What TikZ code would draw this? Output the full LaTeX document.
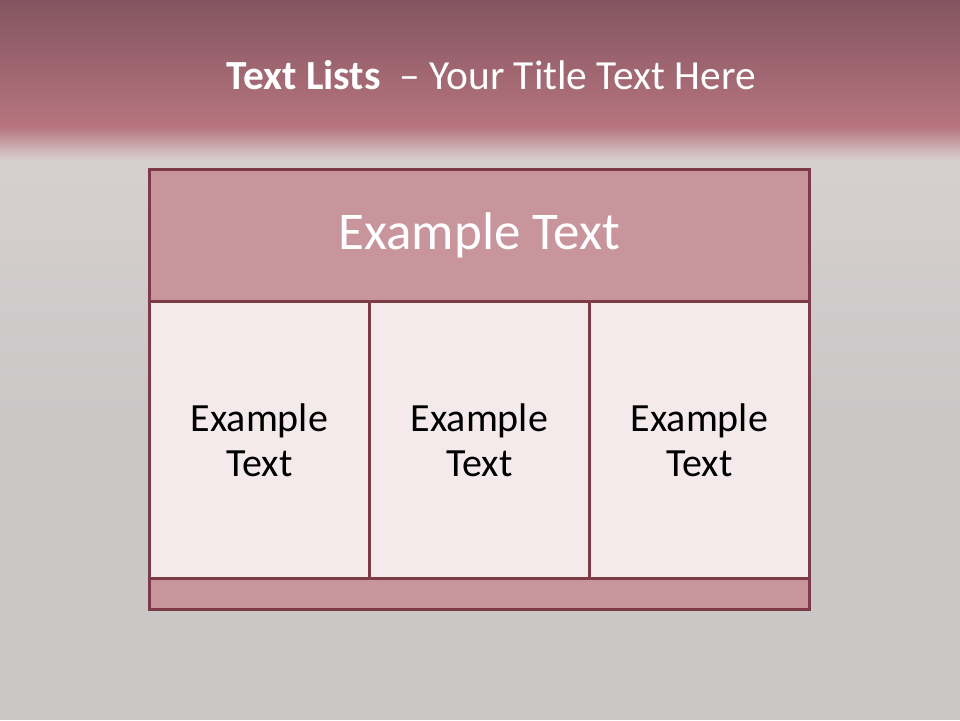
\documentclass[tikz,border=0pt]{standalone}
\usepackage{fontspec}
\setmainfont{Carlito}
\definecolor{bandtop}{HTML}{835560}
\definecolor{bandbot}{HTML}{B7757F}
\definecolor{bgmid}{HTML}{D8D0D1}
\definecolor{bggray}{HTML}{CAC7C7}
\definecolor{headfill}{HTML}{C9959D}
\definecolor{cellfill}{HTML}{F4EAEC}
\definecolor{edge}{HTML}{7B3C48}
\tikzset{
  hdr/.style={draw=edge, line width=2.8pt, fill=headfill, minimum width=660pt, minimum height=132pt, inner sep=0pt, text=white, font=\fontsize{53}{58}\selectfont},
  cellbox/.style={draw=edge, line width=2.8pt, fill=cellfill, minimum width=220pt, minimum height=277pt, inner sep=0pt, align=center, text=black, font=\fontsize{40}{45}\selectfont},
  footbox/.style={draw=edge, line width=2.8pt, fill=headfill, minimum width=660pt, minimum height=31pt, inner sep=0pt},
  ttl/.style={text=white, font=\fontsize{41.4}{48}\selectfont, inner sep=0pt}
}
\begin{document}
\begin{tikzpicture}[x=1pt,y=-1pt]
\useasboundingbox (0,0) rectangle (960,720);
% background
\fill[bggray] (0,0) rectangle (960,720);
\shade[top color=bgmid, bottom color=bggray] (0,128) rectangle (960,420);
\shade[top color=bandtop, bottom color=bandbot] (0,0) rectangle (960,128);
\shade[top color=bandbot, bottom color=bgmid] (0,127) rectangle (960,160);
% title
\node[ttl] (title) at (491,75) {\textbf{Text Lists}\ \ – Your Title Text Here};
% table
\node[hdr, anchor=north west] (head) at (148,168) {Example Text};
\node[cellbox, anchor=north west] (c1) at (148,300) {Example\\Text};
\node[cellbox, anchor=north west] (c2) at (368,300) {Example\\Text};
\node[cellbox, anchor=north west] (c3) at (588,300) {Example\\Text};
\node[footbox, anchor=north west] (foot) at (148,577) {};
\end{tikzpicture}
\end{document}
